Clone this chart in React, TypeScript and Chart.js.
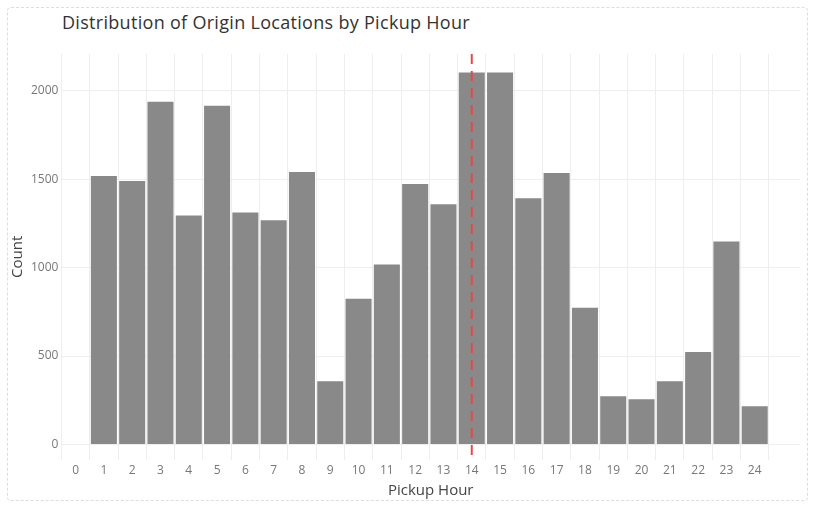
import React, { useEffect, useRef } from 'react';
import { Chart, registerables } from 'chart.js';

Chart.register(...registerables);

const hours = [1, 2, 3, 4, 5, 6, 7, 8, 9, 10, 11, 12, 13, 14, 15, 16, 17, 18, 19, 20, 21, 22, 23, 24];
const counts = [1517, 1489, 1937, 1295, 1915, 1312, 1267, 1540, 358, 824, 1017, 1472, 1358, 2102, 2102, 1392, 1534, 773, 273, 256, 358, 523, 1148, 216];
const peakHour = 14;

const peakLine = {
  id: 'peakLine',
  afterDatasetsDraw(chart: any) {
    const { ctx, chartArea, scales } = chart;
    const x = scales.x.getPixelForValue(peakHour);
    ctx.save();
    ctx.strokeStyle = '#e8474a';
    ctx.lineWidth = 2;
    ctx.setLineDash([10, 7]);
    ctx.beginPath();
    ctx.moveTo(x, chartArea.top);
    ctx.lineTo(x, chartArea.bottom);
    ctx.stroke();
    ctx.restore();
  },
};

const App = () => {
  const chartRef = useRef<HTMLCanvasElement>(null);
  const chartInstance = useRef<Chart | null>(null);

  useEffect(() => {
    document.body.style.margin = '0';
    if (chartRef.current) {
      if (chartInstance.current) chartInstance.current.destroy();
      chartInstance.current = new Chart(chartRef.current, {
        type: 'bar',
        data: {
          datasets: [
            {
              data: hours.map((h, i) => ({ x: h, y: counts[i] })),
              backgroundColor: '#898989',
              barPercentage: 0.92,
              categoryPercentage: 1,
            },
          ],
        },
        options: {
          responsive: true,
          maintainAspectRatio: false,
          animation: false,
          layout: { padding: { left: 0, right: 7, top: 46, bottom: 0 } },
          plugins: {
            legend: { display: false },
            tooltip: { enabled: false },
          },
          scales: {
            x: {
              type: 'linear',
              min: -0.5,
              max: 25.6,
              offset: false,
              grid: { color: '#eeeeee', drawTicks: false },
              border: { display: false },
              afterBuildTicks: (axis: any) => {
                axis.ticks = Array.from({ length: 25 }, (_, i) => ({ value: i }));
              },
              ticks: { color: '#777', font: { family: 'Open Sans', size: 12 }, padding: 4 },
              title: { display: true, text: 'Pickup Hour', color: '#444', font: { family: 'Open Sans', size: 15 }, padding: { top: 0, bottom: 0 } },
            },
            y: {
              min: -85,
              max: 2207,
              grid: { color: '#eeeeee', drawTicks: false },
              border: { display: false },
              afterBuildTicks: (axis: any) => {
                axis.ticks = [0, 500, 1000, 1500, 2000].map((v) => ({ value: v }));
              },
              ticks: { color: '#777', font: { family: 'Open Sans', size: 12 }, padding: 3, callback: (v: any) => String(v) },
              title: { display: true, text: 'Count', color: '#444', font: { family: 'Open Sans', size: 15 }, padding: { top: 1, bottom: 1 } },
            },
          },
        },
        plugins: [peakLine],
      });
    }
    return () => {
      if (chartInstance.current) chartInstance.current.destroy();
    };
  }, []);

  return (
    <div style={{ width: 815, height: 507, position: 'relative', background: '#fff' }}>
      <div style={{ position: 'absolute', left: 7, top: 7, width: 799, height: 492, border: '1px dashed #dddddd', borderRadius: 4 }}>
        <div style={{ position: 'absolute', left: 54, top: 2, fontFamily: 'Open Sans', fontSize: 18, color: '#333', letterSpacing: 0.3 }}>
          Distribution of Origin Locations by Pickup Hour
        </div>
        <div style={{ position: 'absolute', left: 0, top: 0, right: 0, bottom: 0 }}>
          <canvas ref={chartRef} />
        </div>
      </div>
    </div>
  );
};

export default App;
